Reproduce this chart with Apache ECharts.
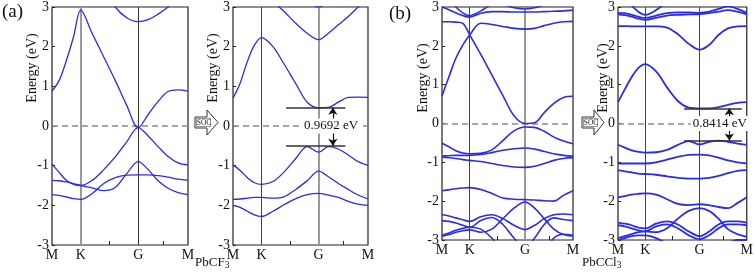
<!DOCTYPE html>
<html><head><meta charset="utf-8">
<script src="https://cdn.jsdelivr.net/npm/echarts@6/dist/echarts.min.js"></script>
<style>html,body{margin:0;padding:0;background:#fff}#c{width:756px;height:276px}</style>
</head><body><div id="c"></div>
<script>
// k-path sample positions (M-K-G-M), shared by all panels
const kPath = [0, 0.125, 0.25, 0.375, 0.5, 0.7, 0.9, 1.1, 1.3, 1.5, 1.673, 1.846, 2.02, 2.193, 2.366];
const kLabelPos = [0, 0.5, 1.5, 2.366];
const kLabels = ['M', 'K', 'G', 'M'];
const kMinorTicks = [1.0, 1.933];
const yTicks = [-3, 3, 1];

// (a) PbCF3 without SOC
const a1_c1 = [0.88, 1.15, 1.65, 2.25, 2.92, 2.33, 1.74, 1.15, 0.52, -0.04, 0.29, 0.62, 0.87, 0.91, 0.88];
const a1_c2 = [5, 5, 5, 4.8, 4.5, 4.1, 3.5, 3.0, 2.73, 2.63, 2.68, 2.82, 3.0, 3.2, 3.4];
const a1_v1 = [-0.96, -1.17, -1.37, -1.47, -1.5, -1.37, -1.1, -0.78, -0.4, -0.04, -0.25, -0.52, -0.77, -0.93, -0.98];
const a1_v2 = [-1.37, -1.38, -1.41, -1.45, -1.5, -1.56, -1.63, -1.55, -1.2, -0.9, -1.1, -1.38, -1.57, -1.68, -1.73];
const a1_v3 = [-1.73, -1.75, -1.79, -1.83, -1.85, -1.7, -1.45, -1.3, -1.24, -1.23, -1.23, -1.25, -1.29, -1.34, -1.37];

// (a) PbCF3 with SOC
const a2_c1 = [0.7, 1.08, 1.62, 2.04, 2.23, 2.0, 1.55, 1.07, 0.6, 0.46, 0.47, 0.6, 0.72, 0.73, 0.72];
const a2_c2 = [4.5, 4.2, 3.9, 3.7, 3.45, 3.15, 2.88, 2.59, 2.34, 2.18, 2.34, 2.55, 2.76, 3.0, 3.25];
const a2_c3 = [5, 5, 5, 5, 5, 4.5, 4.0, 3.5, 3.15, 3.0, 3.15, 3.5, 4.0, 4.5, 5];
const a2_v1 = [-0.98, -1.12, -1.3, -1.43, -1.47, -1.4, -1.15, -0.82, -0.52, -0.66, -0.52, -0.58, -0.73, -0.9, -0.99];
const a2_v2 = [-1.85, -1.84, -1.82, -1.8, -1.8, -1.82, -1.78, -1.6, -1.38, -1.14, -1.28, -1.45, -1.6, -1.74, -1.84];
const a2_v3 = [-2.0, -2.05, -2.15, -2.24, -2.28, -2.15, -1.98, -1.83, -1.73, -1.7, -1.74, -1.8, -1.9, -1.97, -2.0];
const a2_gap = [0.46, -0.5];
const a2_gapText = '0.9692 eV';

// (b) PbCCl3 without SOC
const b1_c1 = [0.71, 1.2, 1.68, 2.02, 2.28, 2.58, 2.55, 2.5, 2.45, 2.43, 2.45, 2.52, 2.58, 2.62, 2.63];
const b1_c2 = [2.62, 2.62, 2.61, 2.58, 2.28, 1.78, 1.25, 0.72, 0.2, 0.0, 0.02, 0.28, 0.52, 0.67, 0.7];
const b1_c3 = [3.0, 2.93, 2.85, 2.78, 2.74, 2.84, 2.88, 2.88, 2.87, 2.87, 2.87, 2.88, 2.89, 2.9, 2.92];
const b1_c4 = [3.4, 3.2, 3.0, 2.85, 2.78, 2.9, 3.05, 3.05, 2.98, 2.95, 2.98, 3.05, 3.2, 3.4, 3.5];
const b1_v1 = [-0.51, -0.6, -0.7, -0.76, -0.78, -0.77, -0.68, -0.44, -0.19, -0.09, -0.1, -0.2, -0.35, -0.45, -0.52];
const b1_v2 = [-0.84, -0.83, -0.82, -0.82, -0.82, -0.8, -0.75, -0.69, -0.65, -0.63, -0.66, -0.72, -0.78, -0.82, -0.84];
const b1_v3 = [-0.87, -0.88, -0.9, -0.93, -0.95, -0.98, -1.03, -1.08, -1.12, -1.13, -1.1, -1.03, -0.95, -0.9, -0.88];
const b1_v4 = [-1.73, -1.71, -1.68, -1.66, -1.65, -1.7, -1.8, -1.92, -1.95, -1.96, -1.97, -1.99, -2.0, -1.85, -1.73];
const b1_v5 = [-2.9, -2.86, -2.8, -2.76, -2.74, -2.8, -2.72, -2.45, -2.18, -2.02, -2.18, -2.45, -2.72, -2.86, -2.9];
const b1_v6 = [-2.35, -2.38, -2.43, -2.48, -2.52, -2.4, -2.35, -2.45, -2.62, -2.73, -2.62, -2.45, -2.35, -2.33, -2.35];
const b1_v7 = [-2.5, -2.52, -2.56, -2.62, -2.67, -2.5, -2.42, -2.6, -2.95, -3.2, -2.95, -2.6, -2.43, -2.47, -2.5];
const b1_v8 = [-2.88, -2.82, -2.75, -2.7, -2.67, -2.72, -2.95, -3.3, -3.5, -3.5, -3.5, -3.3, -2.95, -2.85, -2.88];

// (b) PbCCl3 with SOC
const b2_c1 = [0.55, 0.88, 1.19, 1.43, 1.53, 1.34, 0.93, 0.58, 0.41, 0.39, 0.39, 0.42, 0.48, 0.53, 0.55];
const b2_c2 = [2.51, 2.51, 2.5, 2.5, 2.5, 2.5, 2.47, 2.3, 2.05, 1.9, 2.02, 2.28, 2.45, 2.5, 2.51];
const b2_c3 = [2.81, 2.79, 2.75, 2.7, 2.67, 2.72, 2.78, 2.8, 2.81, 2.82, 2.84, 2.88, 2.92, 2.88, 2.81];
const b2_c4 = [2.85, 2.84, 2.8, 2.75, 2.72, 2.78, 2.84, 2.86, 2.86, 2.85, 2.88, 2.95, 3.02, 2.95, 2.85];
const b2_c5 = [3.6, 3.35, 3.05, 2.88, 2.8, 2.92, 3.15, 3.4, 3.6, 3.7, 3.6, 3.4, 3.2, 3.3, 3.6];
const b2_v1 = [-0.55, -0.62, -0.69, -0.73, -0.75, -0.74, -0.68, -0.55, -0.45, -0.54, -0.47, -0.44, -0.47, -0.52, -0.55];
const b2_v2 = [-1.03, -1.03, -1.03, -1.03, -1.03, -1.0, -0.93, -0.86, -0.81, -0.8, -0.82, -0.88, -0.95, -1.0, -1.03];
const b2_v3 = [-1.2, -1.23, -1.26, -1.29, -1.3, -1.32, -1.36, -1.4, -1.42, -1.42, -1.4, -1.35, -1.28, -1.22, -1.2];
const b2_v4 = [-1.9, -1.87, -1.83, -1.81, -1.8, -1.83, -1.95, -2.07, -2.1, -2.08, -2.1, -2.15, -2.18, -2.05, -1.9];
const b2_v5 = [-2.95, -2.9, -2.85, -2.8, -2.78, -2.8, -2.7, -2.45, -2.25, -2.18, -2.25, -2.45, -2.72, -2.85, -2.92];
const b2_v6 = [-2.55, -2.58, -2.62, -2.68, -2.7, -2.58, -2.52, -2.6, -2.78, -2.9, -2.78, -2.6, -2.52, -2.52, -2.55];
const b2_v7 = [-2.62, -2.65, -2.7, -2.75, -2.78, -2.65, -2.6, -2.7, -2.88, -2.98, -2.88, -2.7, -2.6, -2.6, -2.62];
const b2_v8 = [-3.0, -2.95, -2.9, -2.88, -2.88, -2.95, -3.1, -3.3, -3.5, -3.5, -3.5, -3.3, -3.1, -3.0, -3.0];
const b2_gap = [0.39, -0.44];
const b2_gapText = '0.8414 eV';

const panelBands = [
  [a1_c1, a1_c2, a1_v1, a1_v2, a1_v3],
  [a2_c1, a2_c2, a2_c3, a2_v1, a2_v2, a2_v3],
  [b1_c1, b1_c2, b1_c3, b1_c4, b1_v1, b1_v2, b1_v3, b1_v4, b1_v5, b1_v6, b1_v7, b1_v8],
  [b2_c1, b2_c2, b2_c3, b2_c4, b2_c5, b2_v1, b2_v2, b2_v3, b2_v4, b2_v5, b2_v6, b2_v7, b2_v8]
];

const grids = [
  {left: 52, top: 4, width: 136, height: 241},
  {left: 233, top: 4, width: 135, height: 241},
  {left: 442, top: 5, width: 131, height: 235},
  {left: 618, top: 5, width: 132, height: 235}
];
const nameX = [32, 213, 423, 603];
const nameY = [68, 68, 78, 78];
const bandWidth = [1.3, 1.3, 1.6, 1.8];
const kLineColor = [['#9a9a9a', 2, '#333', 1], ['#444', 1, '#9a9a9a', 2], ['#444', 1, '#9a9a9a', 2], ['#444', 1, '#444', 1]];
const BLUE = '#2b2bea';
const SERIF = 'Liberation Serif';

const chart = echarts.init(document.getElementById('c'), null, {renderer: 'canvas'});

const series = [];
panelBands.forEach((bands, p) => {
  bands.forEach((arr, bi) => {
    const s = {
      type: 'line', xAxisIndex: p, yAxisIndex: p, smooth: 0.35, symbol: 'none', silent: true,
      clip: true, animation: false, z: 3,
      lineStyle: {color: BLUE, width: bandWidth[p]},
      data: kPath.map((k, i) => [k, arr[i]])
    };
    if (bi === 0) {
      const kc = kLineColor[p];
      s.markLine = {
        silent: true, symbol: 'none', animation: false, label: {show: false}, z: 1,
        data: [
          {yAxis: 0, lineStyle: {color: '#8a8a8a', type: [6, 4], width: 1.5}},
          {xAxis: kLabelPos[1], lineStyle: {color: kc[0], width: kc[1], type: 'solid'}},
          {xAxis: kLabelPos[2], lineStyle: {color: kc[2], width: kc[3], type: 'solid'}}
        ]
      };
    }
    series.push(s);
  });
});

const gapSpecs = [
  {p: 1, gap: a2_gap, xl: 0.93, xr: 1.97, xa: 1.75, xt: 1.72, txt: a2_gapText},
  {p: 3, gap: b2_gap, xl: 1.215, xr: 2.275, xa: 2.045, xt: 1.87, txt: b2_gapText}
];
gapSpecs.forEach(g => {
  series.push({
    type: 'line', xAxisIndex: g.p, yAxisIndex: g.p, symbol: 'none', silent: true, animation: false, z: 5,
    lineStyle: {width: 0}, data: [[g.xl, g.gap[0]]],
    markLine: {
      silent: true, symbol: 'none', animation: false, label: {show: false},
      lineStyle: {color: '#333', width: 1.5, type: 'solid'},
      data: [
        [{coord: [g.xl, g.gap[0]]}, {coord: [g.xr, g.gap[0]]}],
        [{coord: [g.xl, g.gap[1]]}, {coord: [g.xr, g.gap[1]]}]
      ]
    }
  });
  series.push({
    type: 'line', xAxisIndex: g.p, yAxisIndex: g.p, symbol: 'none', silent: true, animation: false, z: 6,
    lineStyle: {width: 0}, data: [[g.xa, 0]],
    markLine: {
      silent: true, symbol: ['none', 'arrow'], symbolSize: 7, animation: false, label: {show: false},
      lineStyle: {color: '#111', width: 1.2, type: 'solid'},
      data: [
        [{coord: [g.xa, 0.15]}, {coord: [g.xa, g.gap[0]]}],
        [{coord: [g.xa, -0.15]}, {coord: [g.xa, g.gap[1]]}]
      ]
    }
  });
});

function kFmt(v) {
  let best = 0;
  kLabelPos.forEach((x, i) => { if (Math.abs(x - v) < Math.abs(kLabelPos[best] - v)) best = i; });
  return kLabels[best];
}

const option = {
  backgroundColor: '#fff',
  animation: false,
  grid: grids.map(g => Object.assign({show: true, borderColor: '#222', borderWidth: 1.2, backgroundColor: 'rgba(0,0,0,0)'}, g)),
  xAxis: grids.map((g, p) => ({
    gridIndex: p, type: 'value', min: kPath[0], max: kPath[kPath.length - 1],
    axisLine: {show: false, onZero: false}, splitLine: {show: false},
    axisTick: {show: true, inside: true, length: 4, customValues: kMinorTicks, lineStyle: {color: '#222'}},
    axisLabel: {customValues: kLabelPos, formatter: kFmt, color: '#111', fontFamily: SERIF, fontSize: 14, margin: 3,
      showMinLabel: true, showMaxLabel: true}
  })),
  yAxis: grids.map((g, p) => ({
    gridIndex: p, type: 'value', min: yTicks[0], max: yTicks[1], interval: yTicks[2],
    axisLine: {show: false, onZero: false}, splitLine: {show: false},
    axisTick: {show: true, inside: true, length: 3, lineStyle: {color: '#222'}},
    axisLabel: {color: '#111', fontFamily: SERIF, fontSize: 14, margin: 3}
  })),
  series: series
};
chart.setOption(option);

const subStyle = {fontFamily: SERIF, fontSize: 9.5, fill: '#111', verticalAlign: 'bottom', padding: [6, 0, 0, 0]};
const graphics = [
  {type: 'text', left: 2, top: 3, style: {text: '(a)', fontFamily: SERIF, fontSize: 19, fill: '#111'}},
  {type: 'text', left: 389, top: 5, style: {text: '(b)', fontFamily: SERIF, fontSize: 19, fill: '#111'}},
  {type: 'text', left: 195, top: 256, style: {rich: {a: {fontFamily: SERIF, fontSize: 13, fill: '#111'}, s: subStyle}, text: '{a|PbCF}{s|3}'}},
  {type: 'text', left: 582, top: 256, style: {rich: {a: {fontFamily: SERIF, fontSize: 13, fill: '#111'}, s: subStyle}, text: '{a|PbCCl}{s|3}'}},
  {type: 'polygon', shape: {points: [[195, 117], [207, 117], [207, 110], [218, 122.5], [207, 135], [207, 128], [195, 128]]}, style: {fill: '#fff', stroke: '#333', lineWidth: 1}},
  {type: 'rect', shape: {x: 196.5, y: 118.5, width: 14, height: 8}, style: {fill: 'none', stroke: '#555', lineWidth: 0.6}},
  {type: 'text', x: 204, y: 122.8, style: {text: 'SOC', fontFamily: SERIF, fontSize: 7.5, fill: '#222', align: 'center', verticalAlign: 'middle'}},
  {type: 'polygon', shape: {points: [[582, 117], [594, 117], [594, 110], [604, 122.5], [594, 135], [594, 128], [582, 128]]}, style: {fill: '#fff', stroke: '#333', lineWidth: 1}},
  {type: 'rect', shape: {x: 583.5, y: 118.5, width: 14, height: 8}, style: {fill: 'none', stroke: '#555', lineWidth: 0.6}},
  {type: 'text', x: 591, y: 122.8, style: {text: 'SOC', fontFamily: SERIF, fontSize: 7.5, fill: '#222', align: 'center', verticalAlign: 'middle'}}
];
nameX.forEach((x, i) => {
  graphics.push({type: 'text', x: x, y: nameY[i], rotation: Math.PI / 2,
    style: {text: 'Energy (eV)', fontFamily: SERIF, fontSize: 14, fill: '#111', align: 'center', verticalAlign: 'middle'}});
});
gapSpecs.forEach(g => {
  const pt = chart.convertToPixel({xAxisIndex: g.p, yAxisIndex: g.p}, [g.xt, 0]);
  graphics.push({type: 'text', x: pt[0], y: pt[1], z: 10,
    style: {text: g.txt, fontFamily: SERIF, fontSize: 13, fill: '#111', align: 'center', verticalAlign: 'middle',
      backgroundColor: '#fff', padding: [1, 2]}});
});
chart.setOption({graphic: graphics});
</script>
</body></html>
